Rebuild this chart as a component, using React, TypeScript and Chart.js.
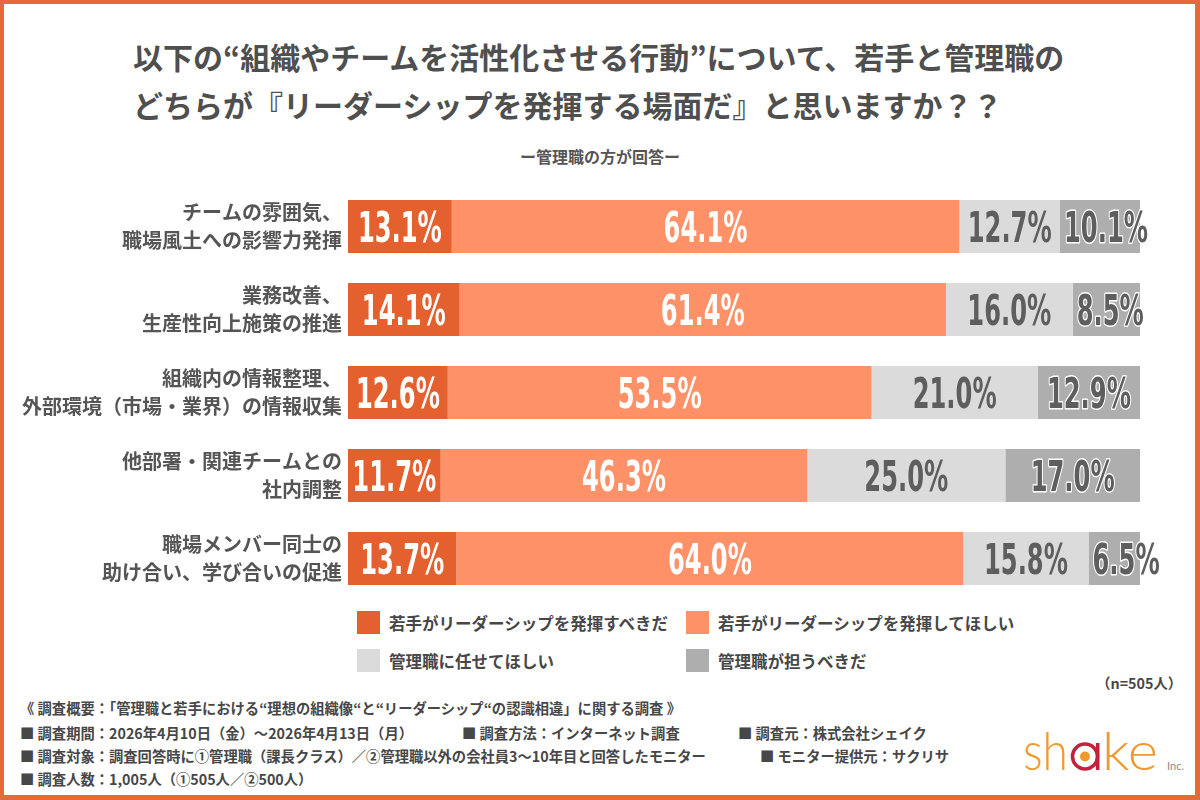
import React, { useEffect, useRef } from "react";
import { Chart, registerables } from "chart.js";

Chart.register(...registerables);

// Survey items (two-line labels)
const categories: string[][] = [
  ["チームの雰囲気、", "職場風土への影響力発揮"],
  ["業務改善、", "生産性向上施策の推進"],
  ["組織内の情報整理、", "外部環境（市場・業界）の情報収集"],
  ["他部署・関連チームとの", "社内調整"],
  ["職場メンバー同士の", "助け合い、学び合いの促進"],
];

const seriesNames = [
  "若手がリーダーシップを発揮すべきだ",
  "若手がリーダーシップを発揮してほしい",
  "管理職に任せてほしい",
  "管理職が担うべきだ",
];

// Percentages per item (n=505, managers)
const youngShouldLead = [13.1, 14.1, 12.6, 11.7, 13.7];
const youngWantLead = [64.1, 61.4, 53.5, 46.3, 64.0];
const leaveToManagers = [12.7, 16.0, 21.0, 25.0, 15.8];
const managersShouldLead = [10.1, 8.5, 12.9, 17.0, 6.5];

const seriesValues = [youngShouldLead, youngWantLead, leaveToManagers, managersShouldLead];
const seriesColors = ["#E4612F", "#FE9168", "#DBDBDB", "#AEAEAE"];
const labelColors = ["#FFFFFF", "#FFFFFF", "#5E5E5E", "#5E5E5E"];

const titleLines = [
  "以下の“組織やチームを活性化させる行動”について、若手と管理職の",
  "どちらが『リーダーシップを発揮する場面だ』と思いますか？？",
];
const subtitle = "ー管理職の方が回答ー";
const sampleNote = "（n=505人）";
const footerHeading = "《 調査概要：「管理職と若手における“理想の組織像“と“リーダーシップ“の認識相違」に関する調査 》";

const JP = "'Noto Sans CJK JP', 'Noto Sans', sans-serif";
const NUM = "'Liberation Sans Narrow', 'DejaVu Sans Condensed', 'Liberation Sans', sans-serif";
const BORDER = "#E8683A";

// Draws the percentage inside each stacked segment
const segmentLabels = {
  id: "segmentLabels",
  afterDatasetsDraw(chart: any) {
    const ctx = chart.ctx as CanvasRenderingContext2D;
    const size = 42;
    ctx.save();
    ctx.font = `bold ${size}px ${NUM}`;
    const sx = 84 / ctx.measureText("13.1%").width;
    chart.data.datasets.forEach((ds: any, di: number) => {
      const meta = chart.getDatasetMeta(di);
      meta.data.forEach((bar: any, i: number) => {
        const v = ds.data[i] as number;
        const text = v.toFixed(1) + "%";
        const w = ctx.measureText(text).width * sx;
        const left = Math.min(bar.base, bar.x);
        const right = Math.max(bar.base, bar.x);
        const segW = right - left;
        const x0 = w + 8 > segW ? left + 4 : (left + right) / 2 - w / 2;
        const baseline = bar.y + size * 0.36;
        ctx.save();
        ctx.translate(x0, baseline);
        ctx.scale(sx, 1);
        ctx.textAlign = "left";
        ctx.textBaseline = "alphabetic";
        if (di === 3) {
          ctx.lineJoin = "round";
          ctx.lineWidth = 3;
          ctx.strokeStyle = "#FFFFFF";
          ctx.strokeText(text, 0, 0);
        }
        ctx.fillStyle = labelColors[di];
        ctx.fillText(text, 0, 0);
        ctx.restore();
      });
    });
    ctx.restore();
  },
};

function BarChart() {
  const ref = useRef<HTMLCanvasElement | null>(null);
  useEffect(() => {
    if (!ref.current) return;
    const chart = new Chart(ref.current, {
      type: "bar",
      data: {
        labels: categories,
        datasets: seriesNames.map((name, k) => ({
          label: name,
          data: seriesValues[k],
          backgroundColor: seriesColors[k],
          borderWidth: 0,
          categoryPercentage: 1,
          barPercentage: 0.64,
        })),
      },
      options: {
        indexAxis: "y",
        animation: false,
        responsive: true,
        maintainAspectRatio: false,
        devicePixelRatio: 1,
        layout: { padding: { left: 0, right: 60, top: 0, bottom: 0 } },
        plugins: {
          legend: { display: false },
          tooltip: { enabled: false },
          title: { display: false },
        },
        scales: {
          x: { stacked: true, min: 0, max: 100, display: false },
          y: {
            stacked: true,
            grid: { display: false, drawTicks: false },
            border: { display: false },
            afterFit: (scale: any) => {
              // labels sit at band centres, so no extra room is needed above/below
              scale.width = 348;
              scale.paddingTop = 0;
              scale.paddingBottom = 0;
            },
            ticks: {
              padding: 6,
              color: "#555555",
              font: { family: JP, size: 20, weight: "bold", lineHeight: 1.4 },
            },
          },
        },
      },
      plugins: [segmentLabels],
    } as any);
    return () => chart.destroy();
  }, []);
  return <canvas ref={ref} />;
}

function Logo() {
  return (
    <svg width="200" height="80" viewBox="0 0 200 80" style={{ position: "absolute", left: 1000, top: 705 }}>
      <text x="23" y="65" fontFamily="Lato, 'Open Sans', sans-serif" fontWeight={300} fontSize="54" fill="#EE9A30" textLength="45" lengthAdjust="spacingAndGlyphs">sh</text>
      <circle cx="85" cy="51.5" r="12.5" fill="none" stroke="#C4213C" strokeWidth="3.6" />
      <line x1="97.7" y1="38" x2="97.7" y2="65" stroke="#C4213C" strokeWidth="3.6" />
      <circle cx="85" cy="51.5" r="5" fill="#EE9A30" />
      <text x="102" y="65" fontFamily="Lato, 'Open Sans', sans-serif" fontWeight={300} fontSize="54" fill="#EE9A30" textLength="56" lengthAdjust="spacingAndGlyphs">ke</text>
      <text x="167" y="65" fontFamily="Lato, 'Open Sans', sans-serif" fontSize="11" fill="#8A8A8A">Inc.</text>
    </svg>
  );
}

const footerStyle: React.CSSProperties = {
  position: "absolute",
  fontFamily: JP,
  fontWeight: 700,
  fontSize: 14.3,
  color: "#474747",
  whiteSpace: "nowrap",
  lineHeight: "20px",
};

export default function App() {
  const legendPos = [
    { left: 357, top: 611 },
    { left: 686, top: 611 },
    { left: 357, top: 649 },
    { left: 686, top: 649 },
  ];
  return (
    <div style={{ position: "fixed", left: 0, top: 0, width: 1200, height: 800, background: "#FFFFFF", overflow: "hidden" }}>
      {titleLines.map((t, i) => (
        <div key={i} style={{ position: "absolute", left: 133, top: 34 + i * 48, fontFamily: JP, fontWeight: 700, fontSize: 30, lineHeight: "44px", color: "#4F4F4F", whiteSpace: "nowrap" }}>
          {t}
        </div>
      ))}
      <div style={{ position: "absolute", left: 0, top: 146, width: 1200, textAlign: "center", fontFamily: JP, fontWeight: 700, fontSize: 16, lineHeight: "20px", color: "#555555" }}>
        {subtitle}
      </div>
      <div style={{ position: "absolute", left: 0, top: 185, width: 1200, height: 415 }}>
        <BarChart />
      </div>
      {seriesNames.map((name, k) => (
        <div key={name} style={{ position: "absolute", left: legendPos[k].left, top: legendPos[k].top, height: 23, display: "flex", alignItems: "center" }}>
          <div style={{ width: 23, height: 23, background: seriesColors[k] }} />
          <div style={{ marginLeft: 9, fontFamily: JP, fontWeight: 700, fontSize: 16.5, color: "#474747", whiteSpace: "nowrap" }}>{name}</div>
        </div>
      ))}
      <div style={{ ...footerStyle, left: 990, width: 192, top: 673, textAlign: "right", fontSize: 14.3 }}>{sampleNote}</div>
      <div style={{ ...footerStyle, left: 20, top: 698 }}>{footerHeading}</div>
      <div style={{ ...footerStyle, left: 20, top: 723 }}>■ 調査期間：2026年4月10日（金）～2026年4月13日（月）</div>
      <div style={{ ...footerStyle, left: 462, top: 723 }}>■ 調査方法：インターネット調査</div>
      <div style={{ ...footerStyle, left: 738, top: 723 }}>■ 調査元：株式会社シェイク</div>
      <div style={{ ...footerStyle, left: 20, top: 746 }}>■ 調査対象：調査回答時に①管理職（課長クラス）／②管理職以外の会社員3～10年目と回答したモニター</div>
      <div style={{ ...footerStyle, left: 760, top: 746 }}>■ モニター提供元：サクリサ</div>
      <div style={{ ...footerStyle, left: 20, top: 769 }}>■ 調査人数：1,005人（①505人／②500人）</div>
      <Logo />
      <div style={{ position: "absolute", left: 0, top: 0, width: 1200, height: 800, boxSizing: "border-box", borderStyle: "solid", borderColor: BORDER, borderWidth: "4px 5px 5px 4px", pointerEvents: "none" }} />
    </div>
  );
}
